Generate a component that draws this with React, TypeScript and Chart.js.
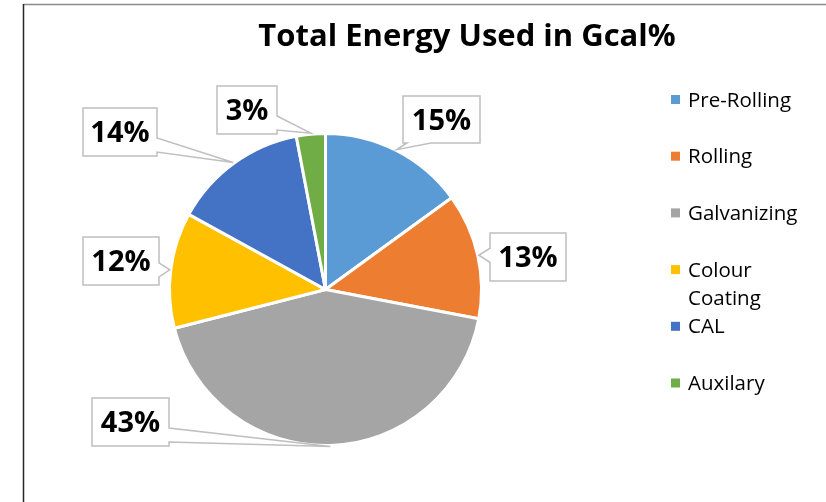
import React, { useEffect, useRef } from 'react';
import { Chart, registerables } from 'chart.js';

Chart.register(...registerables);

const title = 'Total Energy Used in Gcal%';
const categories = ['Pre-Rolling', 'Rolling', 'Galvanizing', 'Colour Coating', 'CAL', 'Auxilary'];
const legendLines = [['Pre-Rolling'], ['Rolling'], ['Galvanizing'], ['Colour', 'Coating'], ['CAL'], ['Auxilary']];
const values = [15, 13, 43, 12, 14, 3];
const colors = ['#5B9BD5', '#ED7D31', '#A5A5A5', '#FFC000', '#4472C4', '#70AD47'];

// layout only: callout box placement [x, y, w, h]
const calloutBoxes = [
  [403, 96, 77, 47],
  [490, 233, 76, 48],
  [92, 398, 77, 48],
  [83, 237, 76, 48],
  [83, 108, 74, 48],
  [217, 86, 60, 48],
];

const decor = {
  id: 'decor',
  beforeDraw(chart: any) {
    const ctx = chart.ctx as CanvasRenderingContext2D;
    ctx.save();
    ctx.fillStyle = '#ffffff';
    ctx.fillRect(0, 0, chart.width, chart.height);
    // frame
    ctx.strokeStyle = '#8a8a8a';
    ctx.lineWidth = 1.5;
    ctx.beginPath();
    ctx.moveTo(23, 4.5);
    ctx.lineTo(chart.width, 4.5);
    ctx.stroke();
    ctx.strokeStyle = '#262626';
    ctx.beginPath();
    ctx.moveTo(23.5, 4);
    ctx.lineTo(23.5, chart.height);
    ctx.stroke();
    // title
    ctx.fillStyle = '#000000';
    ctx.font = 'bold 31px "Open Sans"';
    ctx.textAlign = 'center';
    ctx.textBaseline = 'alphabetic';
    ctx.fillText(title, 467, 46);
    // legend
    ctx.textAlign = 'left';
    ctx.font = '20.5px "Open Sans"';
    legendLines.forEach((lines, i) => {
      const cy = 99.5 + i * 56.7;
      ctx.fillStyle = colors[i];
      ctx.fillRect(671, cy - 4.5, 9, 9);
      ctx.fillStyle = '#000000';
      lines.forEach((ln, j) => {
        ctx.fillText(ln, 688, cy + 7 + j * 28.3);
      });
    });
    ctx.restore();
  },
  afterDatasetsDraw(chart: any) {
    const ctx = chart.ctx as CanvasRenderingContext2D;
    const meta = chart.getDatasetMeta(0);
    const total = values.reduce((a, b) => a + b, 0);
    ctx.save();
    meta.data.forEach((arc: any, i: number) => {
      const p = arc.getProps(['x', 'y', 'startAngle', 'endAngle', 'outerRadius'], true);
      const mid = (p.startAngle + p.endAngle) / 2;
      const tx = p.x + Math.cos(mid) * (p.outerRadius + 1);
      const ty = p.y + Math.sin(mid) * (p.outerRadius + 1);
      const [bx, by, bw, bh] = calloutBoxes[i];
      const r = bx + bw;
      const b = by + bh;
      const ox = tx < bx ? bx - tx : tx > r ? tx - r : 0;
      const oy = ty < by ? by - ty : ty > b ? ty - b : 0;
      let side: string;
      if (ox > oy) side = tx < bx ? 'left' : 'right';
      else side = ty < by ? 'top' : 'bottom';
      const clamp = (v: number, lo: number, hi: number) => Math.max(lo, Math.min(hi, v));
      const pts: number[][] = [];
      pts.push([bx, by]);
      if (side === 'top') {
        const w = 24;
        const c = clamp(tx, bx + 4 + w / 2, r - 4 - w / 2);
        pts.push([c - w / 2, by], [tx, ty], [c + w / 2, by]);
      }
      pts.push([r, by]);
      if (side === 'right') {
        const w = 14;
        const c = clamp(ty, by + 4 + w / 2, b - 4 - w / 2);
        pts.push([r, c - w / 2], [tx, ty], [r, c + w / 2]);
      }
      pts.push([r, b]);
      if (side === 'bottom') {
        const w = 24;
        const c = clamp(tx, bx + 4 + w / 2, r - 4 - w / 2);
        pts.push([c + w / 2, b], [tx, ty], [c - w / 2, b]);
      }
      pts.push([bx, b]);
      if (side === 'left') {
        const w = 14;
        const c = clamp(ty, by + 4 + w / 2, b - 4 - w / 2);
        pts.push([bx, c + w / 2], [tx, ty], [bx, c - w / 2]);
      }
      ctx.beginPath();
      pts.forEach(([x, y], k) => (k === 0 ? ctx.moveTo(x, y) : ctx.lineTo(x, y)));
      ctx.closePath();
      ctx.fillStyle = '#ffffff';
      ctx.fill();
      ctx.strokeStyle = '#BFBFBF';
      ctx.lineWidth = 1.5;
      ctx.lineJoin = 'miter';
      ctx.stroke();
      ctx.fillStyle = '#000000';
      ctx.font = 'bold 29px "Open Sans"';
      ctx.textAlign = 'center';
      ctx.textBaseline = 'middle';
      const pct = Math.round((values[i] / total) * 100) + '%';
      ctx.fillText(pct, bx + bw / 2, by + bh / 2 + 2);
    });
    ctx.restore();
  },
};

export default function App() {
  const ref = useRef<HTMLCanvasElement | null>(null);
  useEffect(() => {
    if (!ref.current) return;
    const chart = new Chart(ref.current, {
      type: 'pie',
      data: {
        labels: categories,
        datasets: [
          {
            data: values,
            backgroundColor: colors,
            borderColor: '#ffffff',
            borderWidth: 3,
          },
        ],
      },
      options: {
        responsive: false,
        animation: false,
        layout: { padding: { left: 168, top: 132, right: 343, bottom: 55 } },
        plugins: {
          legend: { display: false },
          title: { display: false },
          tooltip: { enabled: false },
        },
      },
      plugins: [decor],
    });
    return () => chart.destroy();
  }, []);
  return (
    <div style={{ position: 'fixed', left: 0, top: 0, width: 826, height: 502, background: '#fff' }}>
      <canvas ref={ref} width={826} height={502} />
    </div>
  );
}
